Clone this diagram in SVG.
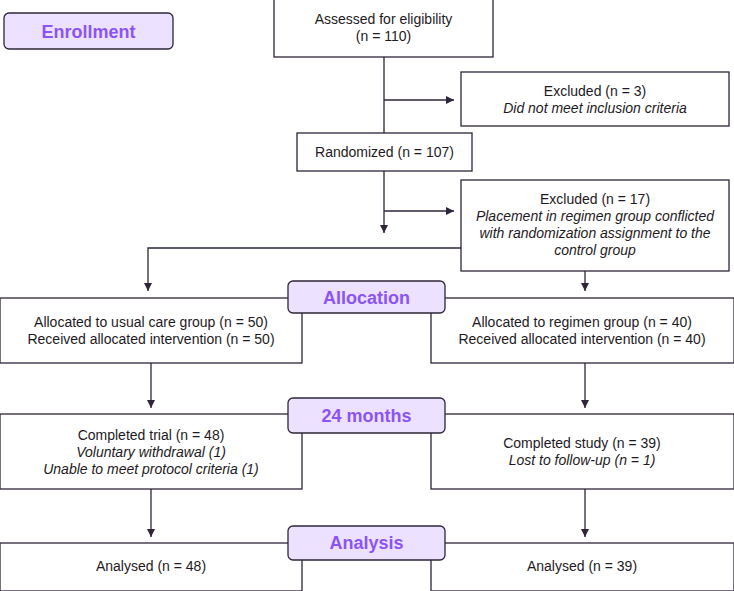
<svg xmlns="http://www.w3.org/2000/svg" width="734" height="591" viewBox="0 0 734 591">
<style>
.box{fill:#ffffff;stroke:#2e2638;stroke-width:1.3}
.lab{fill:#ece1fe;stroke:#2e2638;stroke-width:1.3}
.t{font-family:"Liberation Sans",Arial,sans-serif;font-size:14px;fill:#1e1a24;text-anchor:middle}
.i{font-style:italic}
.lt{font-family:"Liberation Sans",Arial,sans-serif;font-size:18px;font-weight:bold;fill:#8b55f5;text-anchor:middle}
.c{fill:none;stroke:#2e2638;stroke-width:1.3}
</style>
<defs>
<marker id="ah" viewBox="0 0 10 10" refX="10" refY="5" markerWidth="8" markerHeight="8" markerUnits="userSpaceOnUse" orient="auto">
<path d="M0,0 L10,5 L0,10 z" fill="#2e2638"/>
</marker>
</defs>
<rect width="734" height="591" fill="#ffffff"/>
<g id="connectors">
<path class="c" d="M384,57 V133"/>
<path class="c" d="M384,100 H454" marker-end="url(#ah)"/>
<path class="c" d="M384,171 V233" marker-end="url(#ah)"/>
<path class="c" d="M384,211 H454" marker-end="url(#ah)"/>
<path class="c" d="M461,248 H148 V291" marker-end="url(#ah)"/>
<path class="c" d="M585,271 V291" marker-end="url(#ah)"/>
<path class="c" d="M151,363 V408" marker-end="url(#ah)"/>
<path class="c" d="M585,363 V408" marker-end="url(#ah)"/>
<path class="c" d="M151,489 V537" marker-end="url(#ah)"/>
<path class="c" d="M585,489 V537" marker-end="url(#ah)"/>
</g>
<g id="enrollment">
<rect class="lab" x="4" y="13" width="169" height="36" rx="5"/>
<text class="lt" x="88.5" y="37.5">Enrollment</text>
</g>
<g id="assessed">
<rect class="box" x="274" y="-1" width="219" height="58"/>
<text class="t" x="383.5" y="24">Assessed for eligibility</text>
<text class="t" x="383.5" y="41">(n = 110)</text>
</g>
<g id="excluded1">
<rect class="box" x="461" y="72" width="268" height="54"/>
<text class="t" x="595" y="96">Excluded (n = 3)</text>
<text class="t i" x="595" y="113">Did not meet inclusion criteria</text>
</g>
<g id="randomized">
<rect class="box" x="297" y="133" width="175" height="38"/>
<text class="t" x="384.5" y="157">Randomized (n = 107)</text>
</g>
<g id="excluded2">
<rect class="box" x="461" y="180" width="268" height="91"/>
<text class="t" x="595" y="204">Excluded (n = 17)</text>
<text class="t i" x="595" y="221">Placement in regimen group conflicted</text>
<text class="t i" x="595" y="238">with randomization assignment to the</text>
<text class="t i" x="595" y="255">control group</text>
</g>
<g id="usualcare">
<rect class="box" x="0" y="298" width="302" height="65"/>
<text class="t" x="151" y="327">Allocated to usual care group (n = 50)</text>
<text class="t" x="151" y="344">Received allocated intervention (n = 50)</text>
</g>
<g id="regimen">
<rect class="box" x="431" y="298" width="303" height="65"/>
<text class="t" x="582" y="327">Allocated to regimen group (n = 40)</text>
<text class="t" x="582" y="344">Received allocated intervention (n = 40)</text>
</g>
<g id="allocation">
<rect class="lab" x="288" y="281" width="157" height="32" rx="5"/>
<text class="lt" x="366.5" y="303.5">Allocation</text>
</g>
<g id="completedtrial">
<rect class="box" x="0" y="414" width="302" height="75"/>
<text class="t" x="151" y="440">Completed trial (n = 48)</text>
<text class="t i" x="151" y="457">Voluntary withdrawal (1)</text>
<text class="t i" x="151" y="474">Unable to meet protocol criteria (1)</text>
</g>
<g id="completedstudy">
<rect class="box" x="431" y="414" width="303" height="75"/>
<text class="t" x="582" y="448">Completed study (n = 39)</text>
<text class="t i" x="582" y="465">Lost to follow-up (n = 1)</text>
</g>
<g id="months24">
<rect class="lab" x="288" y="398" width="157" height="35" rx="5"/>
<text class="lt" x="366.5" y="422">24 months</text>
</g>
<g id="analysed1">
<rect class="box" x="0" y="543" width="302" height="48"/>
<text class="t" x="151" y="571">Analysed (n = 48)</text>
</g>
<g id="analysed2">
<rect class="box" x="431" y="543" width="303" height="48"/>
<text class="t" x="582" y="571">Analysed (n = 39)</text>
</g>
<g id="analysis">
<rect class="lab" x="288" y="526" width="157" height="34" rx="5"/>
<text class="lt" x="366.5" y="549">Analysis</text>
</g>
</svg>
